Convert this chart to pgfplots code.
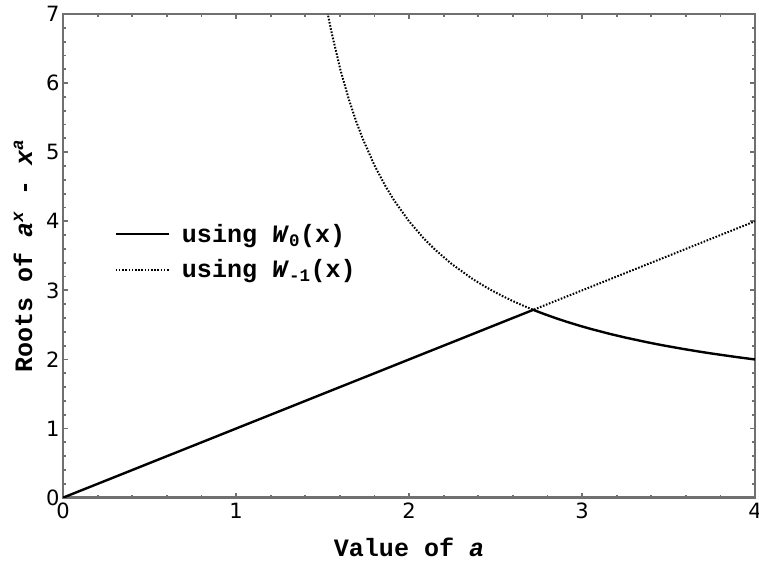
\documentclass[border=0pt]{standalone}
\usepackage{pgfplots}
\pgfplotsset{compat=1.18}
\usepackage{fontspec}
\setmainfont{DejaVu Sans}
\newfontfamily\cour{Liberation Mono}
\definecolor{framegray}{RGB}{112,112,112}

\begin{document}
\begin{tikzpicture}
	\begin{axis}[
	scale only axis, width=691pt, height=483pt,
	xmin=0, xmax=4, ymin=0, ymax=7,
	xtick={0,1,2,3,4}, ytick={0,1,...,7},
	minor tick num=4,
	tick align=inside,
	major tick length=5pt, minor tick length=3pt,
	every tick/.style={framegray, line width=1.8pt},
	axis line style={framegray, line width=2.8pt},
	/pgf/number format/assume math mode=true,
	tick label style={font=\fontsize{21}{24}\selectfont},
	xticklabel style={yshift=-2pt},
	yticklabel style={xshift=0pt},
	xlabel={\cour\bfseries Value of \textit{a}},
	ylabel={\cour\bfseries Roots of \textit{a}\textsuperscript{\textit{x}} - \textit{x}\textsuperscript{\textit{a}}},
	label style={font=\fontsize{25}{28}\selectfont},
	xlabel style={at={(axis description cs:0.5,0)}, anchor=center, yshift=-50pt},
	ylabel style={at={(axis description cs:0,0.5)}, anchor=center, yshift=40pt},
	legend style={draw=none, fill=none, at={(axis description cs:0.074,0.57)}, anchor=north west,
	  font=\cour\bfseries\fontsize{25}{28}\selectfont, row sep=12pt, column sep=10pt, inner sep=0pt},
	legend cell align=left,
	legend image code/.code={\draw[#1] (0pt,0pt) -- (53pt,0pt);},
	clip=true,
	]
	\addplot[black, line width=2.4pt] coordinates {
	(0,0) (2.71828,2.71828) (2.7454,2.6916) (2.7860,2.6533) (2.8531,2.5937)
	(2.9103,2.5465) (2.9860,2.4883) (3.0518,2.4414) (3.1605,2.3704) (3.2467,2.3191)
	(3.375,2.25) (3.4657,2.2054) (3.5862,2.1517) (3.6789,2.1134) (3.7528,2.0849)
	(3.8880,2.0366) (4,2)};
	\addlegendentry{using \textit{W}\textsubscript{0}(x)}
	\addplot[black, line width=2pt, dash pattern=on 1.6pt off 1.6pt] coordinates {
	(1.4953,7.477) (1.5305,6.997) (1.5526,6.728) (1.6039,6.186) (1.6506,5.777)
	(1.6930,5.4553) (1.7321,5.196) (1.8013,4.8035) (1.8611,4.5198) (1.9131,4.3045)
	(2,4) (2.0849,3.7528) (2.1517,3.5862) (2.25,3.375) (2.370,3.1605)
	(2.4414,3.0518) (2.4883,2.9860) (2.5465,2.9103) (2.5937,2.8531) (2.6533,2.7860)
	(2.6916,2.7454) (2.71828,2.71828) (4,4)};
	\addlegendentry{using \textit{W}\textsubscript{-1}(x)}
	\end{axis}
	\pgfresetboundingbox
	\path ([shift={(-63pt,-63pt)}]current axis.south west) rectangle ([shift={(4pt,14pt)}]current axis.north east);
\end{tikzpicture}
\end{document}
